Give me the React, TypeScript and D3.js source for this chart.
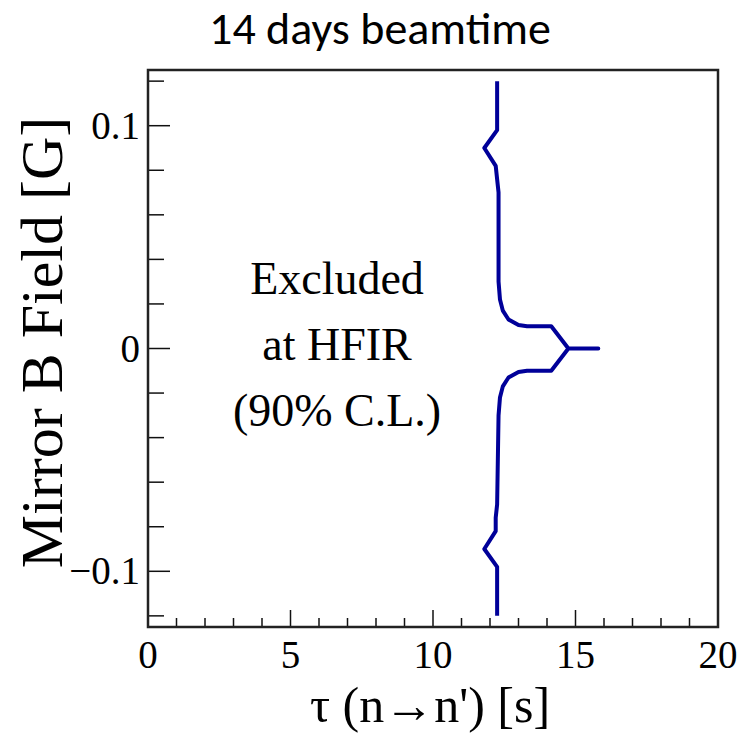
import React, { useEffect, useRef } from "react";
import * as d3 from "d3";

const tauValues = [12.25, 12.25, 11.8, 12.2, 12.25, 12.3, 12.3, 12.35, 12.45, 12.65, 13.0, 13.3, 14.15, 14.75, 15.8,
  14.75, 14.15, 13.3, 13.0, 12.65, 12.45, 12.35, 12.3, 12.25, 12.2, 12.2, 11.8, 12.25, 12.25];
const fieldValues = [0.12, 0.098, 0.09, 0.082, 0.076, 0.07, 0.03, 0.022, 0.017, 0.013, 0.0105, 0.01, 0.01, 0.0, 0.0,
  0.0, -0.01, -0.01, -0.0105, -0.013, -0.017, -0.022, -0.03, -0.07, -0.076, -0.082, -0.09, -0.098, -0.12];

const xMajor = [0, 5, 10, 15, 20];
const xMinor = d3.range(0, 21, 1);
const yMajor = [-0.1, 0, 0.1];
const yMinor = [-0.12, -0.1, -0.08, -0.06, -0.04, -0.02, 0, 0.02, 0.04, 0.06, 0.08, 0.1, 0.12];
const noteLines = ["Excluded", "at HFIR", "(90% C.L.)"];

const W = 752, H = 734;
const frame = { left: 148, right: 718, top: 70, bottom: 627 };
const serif = "'Liberation Serif', 'Times New Roman', serif";

function drawChart(svgEl: SVGSVGElement) {
  const svg = d3.select(svgEl);
  svg.selectAll("*").remove();

  const x = d3.scaleLinear().domain([0, 20]).range([frame.left, frame.right]);
  const y = d3.scaleLinear().domain([-0.125, 0.125]).range([frame.bottom, frame.top]);

  // title
  svg.append("text")
    .attr("x", 380).attr("y", 44)
    .attr("text-anchor", "middle")
    .attr("font-family", "Carlito, 'Open Sans', sans-serif")
    .attr("font-size", 46)
    .text("14 days beamtime");

  // ticks
  const g = svg.append("g").attr("stroke", "#111").attr("stroke-width", 1.5);
  xMinor.forEach((v) => {
    const len = xMajor.includes(v) ? 17 : 9;
    g.append("line").attr("x1", x(v)).attr("x2", x(v))
      .attr("y1", frame.bottom).attr("y2", frame.bottom - len);
  });
  yMinor.forEach((v) => {
    const len = yMajor.some((m) => Math.abs(m - v) < 1e-9) ? 22 : 16;
    g.append("line").attr("x1", frame.left).attr("x2", frame.left + len)
      .attr("y1", y(v)).attr("y2", y(v));
  });

  // frame
  svg.append("rect")
    .attr("x", frame.left).attr("y", frame.top)
    .attr("width", frame.right - frame.left).attr("height", frame.bottom - frame.top)
    .attr("fill", "none").attr("stroke", "#222").attr("stroke-width", 2.5);

  // tick labels
  svg.append("g").selectAll("text").data(xMajor).enter().append("text")
    .attr("x", (d) => x(d)).attr("y", frame.bottom + 41)
    .attr("text-anchor", "middle")
    .attr("font-family", serif).attr("font-size", 39)
    .text((d) => String(d));
  svg.append("g").selectAll("text").data(yMajor).enter().append("text")
    .attr("x", frame.left - 8).attr("y", (d) => y(d) + 13)
    .attr("text-anchor", "end")
    .attr("font-family", serif).attr("font-size", 39)
    .text((d) => (d === 0 ? "0" : d < 0 ? "\u2212" + Math.abs(d) : String(d)));

  // axis titles
  svg.append("text")
    .attr("x", 430).attr("y", 722)
    .attr("text-anchor", "middle")
    .attr("font-family", serif).attr("font-size", 50)
    .text("\u03c4 (n\u2192n') [s]");
  svg.append("text")
    .attr("transform", `translate(62,${y(0) - 6}) rotate(-90)`)
    .attr("text-anchor", "middle")
    .attr("font-family", serif).attr("font-size", 60)
    .text("Mirror B Field [G]");

  // note
  svg.append("g").selectAll("text").data(noteLines).enter().append("text")
    .attr("x", 337).attr("y", (d, i) => 294 + i * 66)
    .attr("text-anchor", "middle")
    .attr("font-family", serif).attr("font-size", 46)
    .text((d) => d);

  // contour
  const pts = tauValues.map((t, i) => [t, fieldValues[i]] as [number, number]);
  const line = d3.line<[number, number]>()
    .x((d) => x(d[0]))
    .y((d) => y(d[1]));
  svg.append("path")
    .datum(pts)
    .attr("d", line)
    .attr("fill", "none")
    .attr("stroke", "#000099")
    .attr("stroke-width", 4)
    .attr("stroke-linejoin", "round");
}

export default function App() {
  const ref = useRef<SVGSVGElement>(null);
  useEffect(() => {
    if (ref.current) drawChart(ref.current);
  }, []);
  return (
    <svg ref={ref} width={W} height={H}
      style={{ position: "absolute", left: 0, top: 0, background: "#fff" }} />
  );
}
